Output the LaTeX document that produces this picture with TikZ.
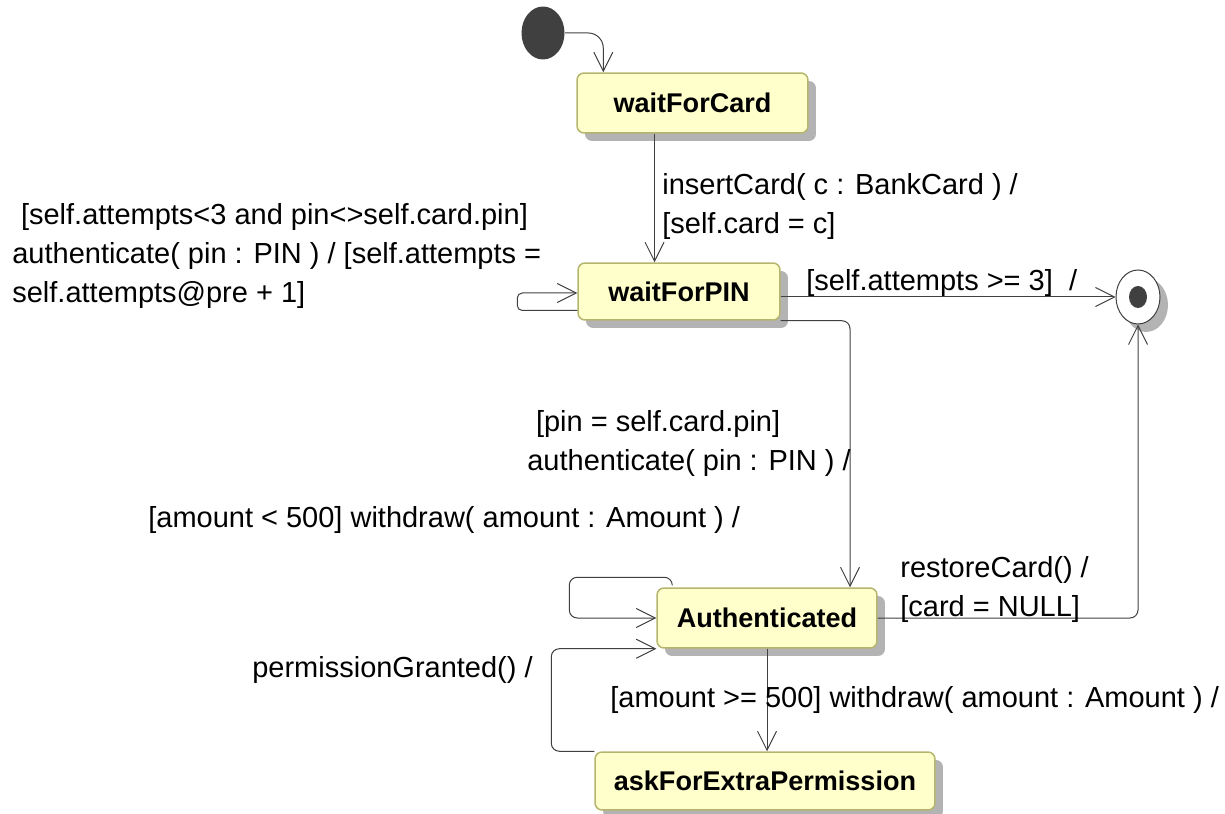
\documentclass[tikz,border=0pt]{standalone}
\usepackage{fontspec}
\setmainfont{Liberation Sans}
\usepackage{tikz}
\usetikzlibrary{calc}
\usetikzlibrary{shapes.geometric}
\usetikzlibrary{shadows}
\usetikzlibrary{arrows.meta}

% Colours of the state chart
\definecolor{r255g255b204}{RGB}{255,255,204}
\definecolor{r181g181b110}{RGB}{181,181,110}
\definecolor{r179g179b179}{RGB}{179,179,179}
\definecolor{r64g64b64}{RGB}{64,64,64}

\newcommand{\labelfont}{\fontsize{16.5pt}{22.2pt}\selectfont}
\newcommand{\statefont}{\fontsize{15.4pt}{20pt}\selectfont\bfseries}

\tikzset{
  state/.style={draw=r181g181b110, fill=r255g255b204, line width=0.03cm,
    rounded corners=0.14cm, inner sep=0pt, font=\statefont,
    drop shadow={shadow xshift=0.16cm, shadow yshift=-0.16cm,
      fill=r179g179b179, opacity=1}},
  trans/.style={draw=r64g64b64, line width=0.02cm, rounded corners=0.16cm,
    -{Straight Barb[length=0.38cm,width=0.38cm]}},
  guard/.style={anchor=west, align=left, inner sep=0pt, font=\labelfont}
}

\begin{document}
\begin{tikzpicture}[x=0.02cm, y=-0.02cm]
  \useasboundingbox (0,0) rectangle (1225,814);

  % Marking initial state by filled ellipse
  \node[ellipse, fill=r64g64b64, minimum width=0.86cm, minimum height=1.06cm, inner sep=0pt] (init) at (543,33) {};

  % Marking final state by ellipse with dot
  \node[ellipse, draw=r64g64b64, fill=white, line width=0.02cm, minimum width=0.88cm, minimum height=1.08cm, inner sep=0pt,
    drop shadow={shadow xshift=0.16cm, shadow yshift=-0.16cm, fill=r179g179b179, opacity=1}] (final) at (1138,297) {};
  \node[ellipse, fill=r64g64b64, minimum width=0.36cm, minimum height=0.44cm, inner sep=0pt] (finaldot) at (final) {};

  % Drawing states
  \node[state, minimum width=4.62cm, minimum height=1.2cm] (card) at (692.5,103) {waitForCard};
  \node[state, minimum width=4.04cm, minimum height=1.14cm] (pin) at (679,291.5) {waitForPIN};
  \node[state, minimum width=4.4cm, minimum height=1.2cm] (auth) at (767,618) {Authenticated};
  \node[state, minimum width=6.8cm, minimum height=1.16cm] (ask) at (765,781) {askForExtraPermission};

  % Drawing transition init -> waitForCard
  \draw[trans, rounded corners=0.3cm] (init.east) -| ($(card.north west)+(27,0)$);

  % Drawing transition waitForCard -> waitForPIN
  \draw[trans] ($(card.south)+(-38,0)$) coordinate (c1) -- (c1 |- pin.north);
  \node[guard] (lblinsert) at (662,206.5) {insertCard( c : BankCard ) /\\{}[self.card = c]};

  % Drawing loop on waitForPIN
  \draw[trans, rounded corners=0.1cm] ($(pin.west)+(0,19)$) -- ++(-60,0) |- ($(pin.west)+(0,1.5)$);
  \node[guard] (lblretry) at (12,256.5) {\hspace*{0.3em}[self.attempts<3 and pin<>self.card.pin]\\
    authenticate( pin : PIN ) / [self.attempts =\\self.attempts@pre + 1]};

  % Drawing transition waitForPIN -> final
  \draw[trans] (final.west -| pin.east) -- (final.west);
  \node[guard] (lblblock) at (806,283) {[self.attempts >= 3]\ \ /};

  % Drawing transition waitForPIN -> Authenticated
  \draw[trans] (pin.south east) -| ($(auth.north)+(83,0)$);
  \node[guard] (lblok) at (527,444) {\hspace*{0.3em}[pin = self.card.pin]\\authenticate( pin : PIN ) /};

  % Drawing loop on Authenticated
  \draw[trans] ($(auth.north west)+(16,-2)$) -- ++(0,-8) -| ($(auth.west)+(-87,0)$) -- (auth.west);
  \node[guard] (lblsmall) at (148,520) {[amount < 500] withdraw( amount : Amount ) /};

  % Drawing transition Authenticated -> final
  \draw[trans] (auth.east) -| (final.south);
  \node[guard] (lblrestore) at (900,589.5) {restoreCard() /\\{}[card = NULL]};

  % Drawing transition Authenticated -> askForExtraPermission
  \draw[trans] (auth.south) -- (auth.south |- ask.north);
  \node[guard] (lblbig) at (610,700) {[amount >= 500] withdraw( amount : Amount ) /};

  % Drawing transition askForExtraPermission -> Authenticated
  \draw[trans] (ask.north west) -- ++(-43,0) |- (auth.south west);
  \node[guard] (lblgrant) at (252,670) {permissionGranted() /};
\end{tikzpicture}
\end{document}
